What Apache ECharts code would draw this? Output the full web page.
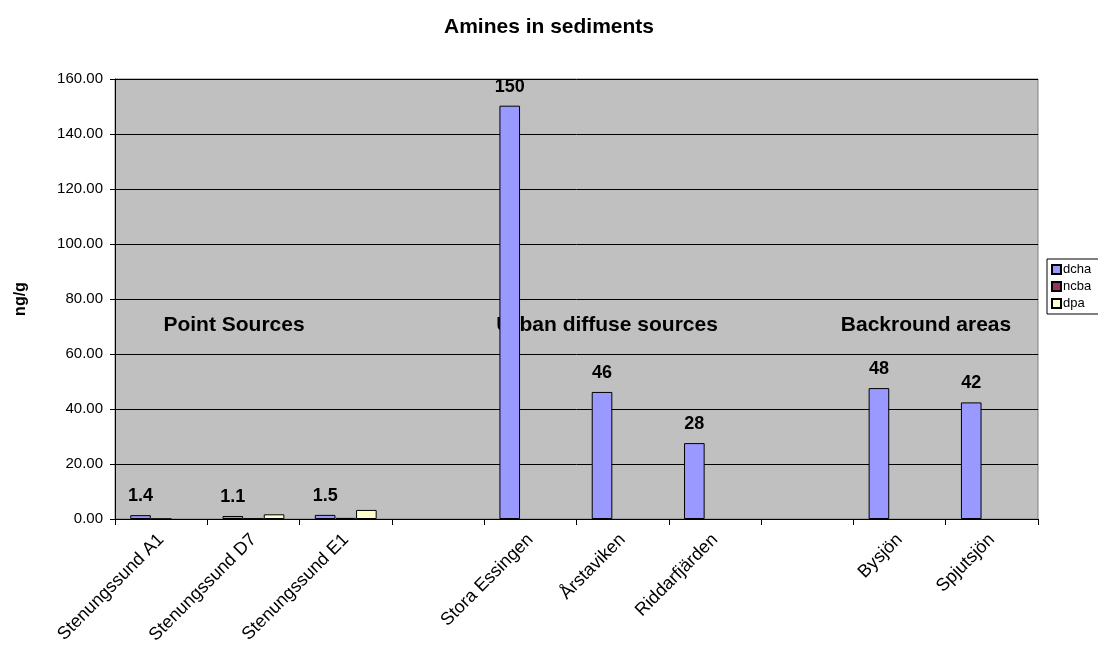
<!DOCTYPE html>
<html>
<head>
<meta charset="utf-8">
<script src="https://cdn.jsdelivr.net/npm/echarts@6/dist/echarts.min.js"></script>
<style>
  html, body { margin: 0; padding: 0; background: #fff; }
  #chart { width: 1098px; height: 650px; }
</style>
</head>
<body>
<div id="chart"></div>
<script>
// sites (blank categories separate the three groups)
const sites = [
  "Stenungssund A1", "Stenungssund D7", "Stenungssund E1", "",
  "Stora Essingen", "Årstaviken", "Riddarfjärden", " ",
  "Bysjön", "Spjutsjön"
];
const dcha = [1.4, 1.1, 1.5, "-", 150.3, 46.2, 27.6, "-", 47.6, 42.4];
const ncba = [0.05, 0.2, 0.4, "-", "-", "-", "-", "-", "-", "-"];
const dpa = ["-", 1.7, 3.3, "-", "-", "-", "-", "-", "-", "-"];
const yTicks = { min: 0, max: 160, interval: 20 };
const groupNotes = ["Point Sources", "Urban diffuse sources", "Backround areas"];

const FONT = "Liberation Sans, Arial, sans-serif";
const chart = echarts.init(document.getElementById("chart"));

const barStyle = color => ({ color: color, borderColor: "#000", borderWidth: 1 });

// group headings, placed by hand like the text boxes in the original
const noteX = [234, 607, 926];
const notes = groupNotes.map((txt, i) => ({
  type: "text",
  x: noteX[i],
  y: 325,
  style: {
    text: txt, fontSize: 21, fontWeight: "bold", fill: "#000",
    align: "center", verticalAlign: "middle", fontFamily: FONT
  }
}));

const option = {
  animation: false,
  textStyle: { fontFamily: FONT },
  title: {
    text: "Amines in sediments",
    left: "center",
    top: 12,
    textStyle: { fontSize: 21, fontWeight: "bold", color: "#000" }
  },
  legend: {
    data: ["dcha", "ncba", "dpa"],
    orient: "vertical",
    left: 1047,
    top: 259,
    itemWidth: 9,
    itemHeight: 9,
    itemGap: 4,
    padding: [4, 20, 4, 4],
    borderColor: "#000",
    borderWidth: 1,
    textStyle: { fontSize: 13, color: "#000", padding: [0, 0, 0, -3] },
    icon: "rect"
  },
  grid: {
    left: 115,
    right: 60,
    top: 79,
    bottom: 131,
    show: true,
    backgroundColor: "#C0C0C0",
    borderColor: "#808080",
    borderWidth: 1
  },
  xAxis: {
    type: "category",
    data: sites,
    axisLine: { lineStyle: { color: "#000" } },
    axisTick: { show: true, length: 6, interval: 0, lineStyle: { color: "#000" } },
    axisLabel: { interval: 0, rotate: 45, fontSize: 18, color: "#000", margin: 18 }
  },
  yAxis: {
    type: "value",
    min: yTicks.min,
    max: yTicks.max,
    interval: yTicks.interval,
    name: "ng/g",
    nameLocation: "middle",
    nameGap: 86,
    nameTextStyle: { fontSize: 16, fontWeight: "bold", color: "#000" },
    axisLine: { show: true, lineStyle: { color: "#000" } },
    axisTick: { show: true, length: 5, lineStyle: { color: "#000" } },
    axisLabel: { fontSize: 15, color: "#000", margin: 12, formatter: v => v.toFixed(2) },
    splitLine: { lineStyle: { color: "#000", width: 1 } }
  },
  series: [
    {
      name: "dcha",
      type: "bar",
      data: dcha,
      barGap: "0%",
      barCategoryGap: "33%",
      itemStyle: barStyle("#9999FF"),
      label: {
        show: true,
        position: "top",
        distance: 10,
        fontSize: 18,
        fontWeight: "bold",
        color: "#000",
        formatter: p => (p.value < 10 ? p.value.toFixed(1) : Math.round(p.value))
      }
    },
    {
      name: "ncba",
      type: "bar",
      data: ncba,
      barGap: "0%",
      barCategoryGap: "33%",
      itemStyle: barStyle("#993366")
    },
    {
      name: "dpa",
      type: "bar",
      data: dpa,
      barGap: "0%",
      barCategoryGap: "33%",
      itemStyle: barStyle("#FFFFCC")
    }
  ],
  graphic: notes
};

chart.setOption(option);
window.addEventListener("resize", () => chart.resize());
</script>
</body>
</html>
